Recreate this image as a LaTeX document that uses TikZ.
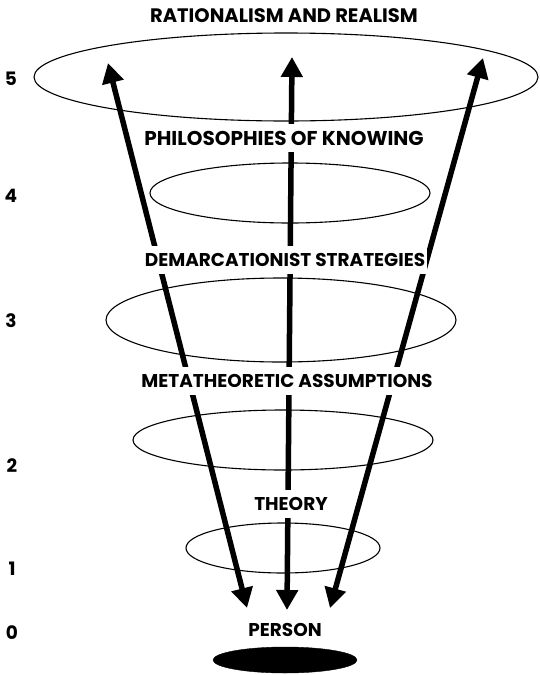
\documentclass[tikz,border=0pt]{standalone}
\usepackage{fontspec}
\setmainfont{Poppins}
\usetikzlibrary{arrows.meta,shapes.geometric}
\tikzset{
  level/.style={draw,ellipse,line width=1.1pt,inner sep=0pt},
  lbl/.style={font=\bfseries\fontsize{18.5}{20}\selectfont,fill=white,inner xsep=2pt,inner ysep=7pt},
  num/.style={font=\bfseries\fontsize{18.5}{20}\selectfont},
  link/.style={line width=5.5pt,{Triangle[length=20pt,width=21pt]}-{Triangle[length=20pt,width=21pt]}}
}
\begin{document}
\begin{tikzpicture}[x=1pt,y=-1pt]
  \useasboundingbox (0,0) rectangle (539,675);
  \node[level,minimum width=504pt,minimum height=88pt] (e5) at (286,77) {};
  \node[level,minimum width=280pt,minimum height=60pt] (e4) at (290,193) {};
  \node[level,minimum width=350pt,minimum height=84pt] (e3) at (281,320) {};
  \node[level,minimum width=300pt,minimum height=60pt] (e2) at (283,440) {};
  \node[level,minimum width=194pt,minimum height=50pt] (e1) at (283,548) {};
  \node[draw,ellipse,fill=black,minimum width=144pt,minimum height=26pt] (e0) at (285,660) {};
  \coordinate (lt) at (108,63);
  \coordinate (lb) at (247,608);
  \coordinate (mt) at (292,57);
  \coordinate (mb) at (287,610);
  \coordinate (rt) at (483,58);
  \coordinate (rb) at (330,608);
  \draw[link] (lt) -- (lb);
  \draw[link] (mt) -- (mb);
  \draw[link] (rt) -- (rb);
  \node[lbl,font=\bfseries\fontsize{19.5}{21}\selectfont] (l5) at (284,16) {RATIONALISM AND REALISM};
  \node[lbl,font=\bfseries\fontsize{20}{21}\selectfont] (l4) at (284,138) {PHILOSOPHIES OF KNOWING};
  \node[lbl] (l3) at (285,260) {DEMARCATIONIST STRATEGIES};
  \node[lbl] (l2) at (287,381) {METATHEORETIC ASSUMPTIONS};
  \node[lbl] (l1) at (291,504) {THEORY};
  \node[lbl] (l0) at (285,630) {PERSON};
  \node[num] (n5) at (11,79) {5};
  \node[num] (n4) at (11,196) {4};
  \node[num] (n3) at (11,321) {3};
  \node[num] (n2) at (12,466) {2};
  \node[num] (n1) at (12,569) {1};
  \node[num] (n0) at (12,633) {0};
\end{tikzpicture}
\end{document}
